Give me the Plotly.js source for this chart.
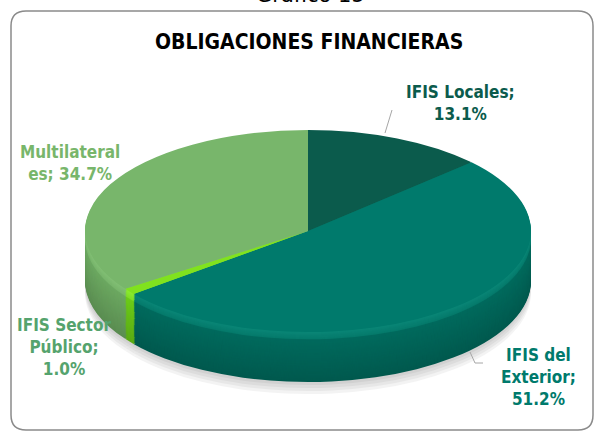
<!DOCTYPE html>
<html><head><meta charset="utf-8">
<script src="https://cdn.plot.ly/plotly-3.0.1.min.js"></script>
<style>html,body{margin:0;padding:0;background:#fff;}#chart{width:594px;height:431px;}</style>
</head><body><div id="chart"></div>
<script>
// ---- data ----
const categories = ['IFIS Locales', 'IFIS del Exterior', 'IFIS Sector Público', 'Multilaterales'];
const shares = [13.1, 51.2, 1.0, 34.7];
const labelTemplates = ['IFIS Locales;<br>%v', 'IFIS del<br>Exterior;<br>%v', 'IFIS Sector<br>Público;<br>%v', 'Multilateral<br>es; %v'];
const chartTitle = 'OBLIGACIONES FINANCIERAS';
const figureCaption = 'Gráfico 15';

// ---- style ----
const topColors   = ['#0b5b4c', '#007a6c', '#80e21e', '#78b66b'];
const bevelColors = ['#0d6a58', '#0a8777', '#8cec30', '#82bf75'];
const sideColors  = ['#07483c', '#006a5d', '#6ccb18', '#6ca861'];
const labelColors = ['#0b5b4c', '#007a6c', '#55a36d', '#78b66b'];
const labelPos = [[460, 103], [538, 377], [64, 347], [70, 163]];

const W = 594, H = 431;
const FONT = 'DejaVu Sans Condensed, Liberation Sans Narrow, DejaVu Sans, sans-serif';
// target ellipse (screen px)
const ECX = 308, ECY = 231, ERX = 223, ERY = 101, DEPTH = 50;
// unscaled pie
const UCX = 297, UCY = 150, UR = 150;
const SY0 = ERY / UR;
const depthU = DEPTH / SY0;

function hex2rgb(h){h=h.replace('#','');return [0,2,4].map(i=>parseInt(h.substr(i,2),16));}
function mix(a,b,t){const A=hex2rgb(a),B=hex2rgb(b);return 'rgb('+A.map((v,i)=>Math.round(v+(B[i]-v)*t)).join(',')+')';}
function dom(cy){return {x:[(UCX-UR)/W,(UCX+UR)/W], y:[1-(cy+UR)/H, 1-(cy-UR)/H]};}
function pieTrace(colors, cy, opacity){
  return {type:'pie', values:shares, labels:categories, sort:false, direction:'clockwise', rotation:0,
    textinfo:'none', hoverinfo:'skip', showlegend:false, opacity: opacity===undefined?1:opacity,
    marker:{colors:colors, line:{width:0}}, domain:dom(cy)};
}

const traces = [];
// soft shadow
[12, 9, 6, 3].forEach(s => {
  traces.push(pieTrace(categories.map(()=>'#000000'), UCY + depthU + s/SY0, 0.045));
});
// side layers, deepest first
const N = 48;
for (let k = N; k >= 1; k--) {
  const off = depthU * k / N;
  const t = k / N;
  let cols;
  if (t < 0.16) cols = bevelColors.map((c,i)=>mix(c, sideColors[i], t/0.16*0.5));
  else cols = sideColors.map((c,i)=>mix(c, '#000000', 0.16*(t-0.16)/0.84));
  traces.push(pieTrace(cols, UCY + off));
}
// top face
traces.push(pieTrace(topColors, UCY));
const topIdx = traces.length - 1;

function px(x){return x/W;} function py(y){return 1-y/H;}
const L=11,T=11,R=593,B=430,CR=15;
const framePath = 'M'+px(L+CR)+','+py(T)+' L'+px(R-CR)+','+py(T)+' Q'+px(R)+','+py(T)+' '+px(R)+','+py(T+CR)+
  ' L'+px(R)+','+py(B-CR)+' Q'+px(R)+','+py(B)+' '+px(R-CR)+','+py(B)+' L'+px(L+CR)+','+py(B)+
  ' Q'+px(L)+','+py(B)+' '+px(L)+','+py(B-CR)+' L'+px(L)+','+py(T+CR)+' Q'+px(L)+','+py(T)+' '+px(L+CR)+','+py(T)+' Z';

const annotations = categories.map((c,i)=>({
  text: labelTemplates[i].replace('%v', shares[i].toFixed(1)+'%'),
  xref:'paper', yref:'paper', x:px(labelPos[i][0]), y:py(labelPos[i][1]), xanchor:'center', yanchor:'middle',
  showarrow:false, align:'center', font:{family:FONT, size:17, color:labelColors[i], weight:'bold'}
}));
annotations.push({text:chartTitle, xref:'paper', yref:'paper', x:px(309), y:py(42), xanchor:'center', yanchor:'middle',
  showarrow:false, font:{family:FONT, size:21, color:'#000000', weight:'bold'}});
annotations.push({text:figureCaption, xref:'paper', yref:'paper', x:px(310), y:py(-5), xanchor:'center', yanchor:'middle',
  showarrow:false, font:{family:'DejaVu Sans, sans-serif', size:21, color:'#000000'}});

const shapes = [
  {type:'path', xref:'paper', yref:'paper', path:framePath, line:{color:'#8a8a8a', width:1.5}, fillcolor:'rgba(0,0,0,0)'},
  {type:'path', xref:'paper', yref:'paper', path:'M'+px(385)+','+py(133)+' L'+px(392)+','+py(110), line:{color:'#a6a6a6', width:1}},
  {type:'path', xref:'paper', yref:'paper', path:'M'+px(470)+','+py(352)+' L'+px(475)+','+py(363)+' L'+px(483)+','+py(363), line:{color:'#a6a6a6', width:1}}
];

const layout = {width:W, height:H, margin:{l:0,r:0,t:0,b:0}, paper_bgcolor:'#ffffff', plot_bgcolor:'#ffffff',
  showlegend:false, annotations:annotations, shapes:shapes};

Plotly.newPlot('chart', traces, layout, {displayModeBar:false, staticPlot:true}).then(gd=>{
  const cd = gd.calcdata[topIdx][0];
  const sx = ERX/cd.r, sy = ERY/cd.r;
  const tx = ECX - sx*cd.cx, ty = ECY - sy*cd.cy;
  const pl = gd.querySelector('.pielayer');
  if (pl) pl.setAttribute('transform', 'matrix('+sx+',0,0,'+sy+','+tx+','+ty+')');
});
</script></body></html>
